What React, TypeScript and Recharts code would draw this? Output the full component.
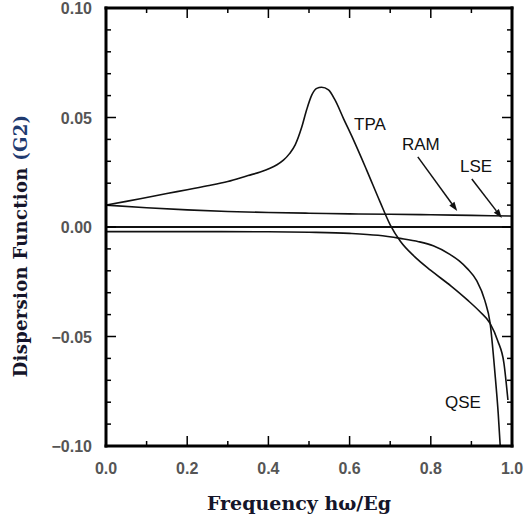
import React from 'react';
import { LineChart, Line, XAxis, YAxis, ReferenceLine, ReferenceDot, Label } from 'recharts';

// ---- data ----
const tpaX = [0, 0.05, 0.1, 0.15, 0.2, 0.25, 0.3, 0.35, 0.38, 0.404, 0.42, 0.437, 0.452, 0.466, 0.482, 0.494, 0.507, 0.519, 0.531, 0.548, 0.564, 0.585, 0.609, 0.642, 0.675, 0.7, 0.725, 0.76, 0.8, 0.85, 0.89, 0.92, 0.946, 0.965, 0.98, 0.99];
const tpaY = [0.01, 0.0117, 0.0135, 0.0153, 0.017, 0.0188, 0.0208, 0.0235, 0.0251, 0.0268, 0.0283, 0.0305, 0.0335, 0.0375, 0.0455, 0.0534, 0.0603, 0.0633, 0.0638, 0.0626, 0.058, 0.0495, 0.04, 0.026, 0.0115, 0.001, -0.0065, -0.0135, -0.0198, -0.027, -0.0333, -0.0385, -0.044, -0.052, -0.062, -0.079];

const ramX = [0, 0.1, 0.2, 0.3, 0.4, 0.5, 0.6, 0.7, 0.8, 0.9, 1.0];
const ramY = [0.01, 0.0088, 0.0078, 0.0071, 0.0066, 0.0063, 0.006, 0.0058, 0.0056, 0.0053, 0.005];

const lseX = [0, 1.0];
const lseY = [0, 0];

const qseX = [0, 0.2, 0.4, 0.5, 0.6, 0.67, 0.724, 0.77, 0.806, 0.847, 0.87, 0.89, 0.913, 0.933, 0.946, 0.958, 0.966, 0.971];
const qseY = [-0.0021, -0.0021, -0.0022, -0.0024, -0.0029, -0.0038, -0.0052, -0.0067, -0.0086, -0.0125, -0.0155, -0.019, -0.0245, -0.0335, -0.0438, -0.0667, -0.085, -0.1];

const xTicks = [0, 0.1, 0.2, 0.3, 0.4, 0.5, 0.6, 0.7, 0.8, 0.9, 1.0];
const yTicks = [-0.1, -0.09, -0.08, -0.07, -0.06, -0.05, -0.04, -0.03, -0.02, -0.01, 0, 0.01, 0.02, 0.03, 0.04, 0.05, 0.06, 0.07, 0.08, 0.09, 0.1];

const curveNames = ['TPA', 'RAM', 'LSE', 'QSE'];
const nameAnchorX = [0.611, 0.729, 0.872, 0.835];
const nameAnchorY = [0.0443, 0.0352, 0.0251, -0.0826];

const arrowFromX = [0.768, 0.901];
const arrowFromY = [0.032, 0.0219];
const arrowToX = [0.865, 0.975];
const arrowToY = [0.0073, 0.0041];

const xTitle = 'Frequency hω/Eg';
const yTitleMain = 'Dispersion Function ';
const yTitleSub = '(G2)';

// ---- derived tables ----
const zip = (xs: number[], ys: number[]) => xs.map((x, i) => ({ x, y: ys[i] }));
const tpa = zip(tpaX, tpaY);
const ram = zip(ramX, ramY);
const lse = zip(lseX, lseY);
const qse = zip(qseX, qseY);

const isMajorY = (v: number) => Math.round(Math.abs(v) * 100) % 5 === 0;
const isMajorX = (v: number) => Math.round(v * 10) % 2 === 0;
const fmtY = (v: number) => (v < -1e-9 ? '\u2212' : '') + Math.abs(v).toFixed(2);
const fmtX = (v: number) => v.toFixed(1);

const tickFont = { fontFamily: '"Liberation Sans", Arial, sans-serif', fontSize: 16, fontWeight: 700, fill: '#555' };
const INK = '#111';

const LeftTick = (p: any) => {
  const v = p.payload.value;
  const major = isMajorY(v);
  return (
    <g>
      <line x1={p.x} y1={p.y} x2={p.x + (major ? 10 : 5)} y2={p.y} stroke="#000" strokeWidth={1.5} />
      {major && (
        <text x={p.x - 14} y={p.y + 6} textAnchor="end" {...tickFont}>{fmtY(v)}</text>
      )}
    </g>
  );
};
const RightTick = (p: any) => {
  const v = p.payload.value;
  const major = isMajorY(v);
  return <line x1={p.x} y1={p.y} x2={p.x - (major ? 10 : 5)} y2={p.y} stroke="#000" strokeWidth={1.5} />;
};
const BottomTick = (p: any) => {
  const v = p.payload.value;
  const major = isMajorX(v);
  return (
    <g>
      <line x1={p.x} y1={p.y} x2={p.x} y2={p.y - (major ? 10 : 5)} stroke="#000" strokeWidth={1.5} />
      {major && (
        <text x={p.x} y={p.y + 28} textAnchor="middle" {...tickFont}>{fmtX(v)}</text>
      )}
    </g>
  );
};
const TopTick = (p: any) => {
  const v = p.payload.value;
  const major = isMajorX(v);
  return <line x1={p.x} y1={p.y} x2={p.x} y2={p.y + (major ? 10 : 5)} stroke="#000" strokeWidth={1.5} />;
};

const titleFont = { fontFamily: '"DejaVu Serif", serif', fontWeight: 700 };

const XTitle = (props: any) => {
  const vb = props.viewBox || { x: 106, y: 446, width: 406, height: 50 };
  return (
    <text x={vb.x + vb.width / 2 - 10} y={vb.y + 64} textAnchor="middle" fill="#15152a" fontSize={19} {...titleFont}>
      {xTitle}
    </text>
  );
};
const YTitle = (props: any) => {
  const vb = props.viewBox || { x: 0, y: 8, width: 106, height: 438 };
  const cx = vb.x + 27;
  const cy = vb.y + vb.height / 2 + 19;
  return (
    <text x={cx} y={cy} textAnchor="middle" transform={`rotate(-90, ${cx}, ${cy})`} fill="#15152a" fontSize={18} letterSpacing={0.3} {...titleFont}>
      {yTitleMain}
      <tspan fill="#1f3a70">{yTitleSub}</tspan>
    </text>
  );
};

const ArrowShape = (p: any) => {
  const { x1, y1, x2, y2 } = p;
  if ([x1, y1, x2, y2].some((v) => typeof v !== 'number' || isNaN(v))) return <g />;
  const dx = x2 - x1;
  const dy = y2 - y1;
  const len = Math.sqrt(dx * dx + dy * dy) || 1;
  const ux = dx / len;
  const uy = dy / len;
  const h = 9;
  const w = 3.2;
  const bx = x2 - ux * h;
  const by = y2 - uy * h;
  const pts = `${x2},${y2} ${bx - uy * w},${by + ux * w} ${bx + uy * w},${by - ux * w}`;
  return (
    <g>
      <line x1={x1} y1={y1} x2={bx} y2={by} stroke={INK} strokeWidth={1.5} />
      <polygon points={pts} fill={INK} />
    </g>
  );
};

const NameShape = (name: string) => (p: any) => (
  <text x={p.cx} y={p.cy} textAnchor="start" fontFamily='"Liberation Sans", Arial, sans-serif' fontSize={17} fill="#111">
    {name}
  </text>
);

export default function App() {
  const axisLine = { stroke: '#000', strokeWidth: 3, strokeLinecap: 'square' as const };
  return (
    <div style={{ position: 'absolute', left: 0, top: 0, background: '#fff' }}>
      <LineChart width={525} height={519} margin={{ top: 3, right: 8, bottom: 23, left: 0 }}>
        <XAxis
          xAxisId="b"
          type="number"
          dataKey="x"
          domain={[0, 1]}
          ticks={xTicks}
          interval={0}
          tickSize={0}
          tickMargin={0}
          tickLine={false}
          axisLine={axisLine}
          tick={BottomTick}
          height={50}
          allowDataOverflow
        >
          <Label content={XTitle} />
        </XAxis>
        <XAxis
          xAxisId="t"
          orientation="top"
          type="number"
          dataKey="x"
          domain={[0, 1]}
          ticks={xTicks}
          interval={0}
          tickSize={0}
          tickMargin={0}
          tickLine={false}
          axisLine={axisLine}
          tick={TopTick}
          height={5}
          allowDataOverflow
        />
        <YAxis
          yAxisId="l"
          type="number"
          domain={[-0.1, 0.1]}
          ticks={yTicks}
          interval={0}
          tickSize={0}
          tickMargin={0}
          tickLine={false}
          axisLine={axisLine}
          tick={LeftTick}
          width={106}
          allowDataOverflow
        >
          <Label content={YTitle} />
        </YAxis>
        <YAxis
          yAxisId="r"
          orientation="right"
          type="number"
          domain={[-0.1, 0.1]}
          ticks={yTicks}
          interval={0}
          tickSize={0}
          tickMargin={0}
          tickLine={false}
          axisLine={axisLine}
          tick={RightTick}
          width={5}
          allowDataOverflow
        />
        <Line xAxisId="b" yAxisId="l" data={lse} dataKey="y" type="linear" stroke={INK} strokeWidth={2} dot={false} isAnimationActive={false} />
        <Line xAxisId="b" yAxisId="l" data={ram} dataKey="y" type="monotone" stroke={INK} strokeWidth={1.6} dot={false} isAnimationActive={false} />
        <Line xAxisId="b" yAxisId="l" data={qse} dataKey="y" type="monotone" stroke={INK} strokeWidth={1.6} dot={false} isAnimationActive={false} />
        <Line xAxisId="b" yAxisId="l" data={tpa} dataKey="y" type="monotone" stroke={INK} strokeWidth={1.6} dot={false} isAnimationActive={false} />
        {arrowFromX.map((fx, i) => (
          <ReferenceLine
            key={'a' + i}
            xAxisId="b"
            yAxisId="l"
            segment={[{ x: fx, y: arrowFromY[i] }, { x: arrowToX[i], y: arrowToY[i] }]}
            shape={ArrowShape}
            ifOverflow="visible"
          />
        ))}
        {curveNames.map((n, i) => (
          <ReferenceDot
            key={'n' + i}
            xAxisId="b"
            yAxisId="l"
            x={nameAnchorX[i]}
            y={nameAnchorY[i]}
            r={0}
            shape={NameShape(n)}
            ifOverflow="visible"
          />
        ))}
      </LineChart>
    </div>
  );
}
